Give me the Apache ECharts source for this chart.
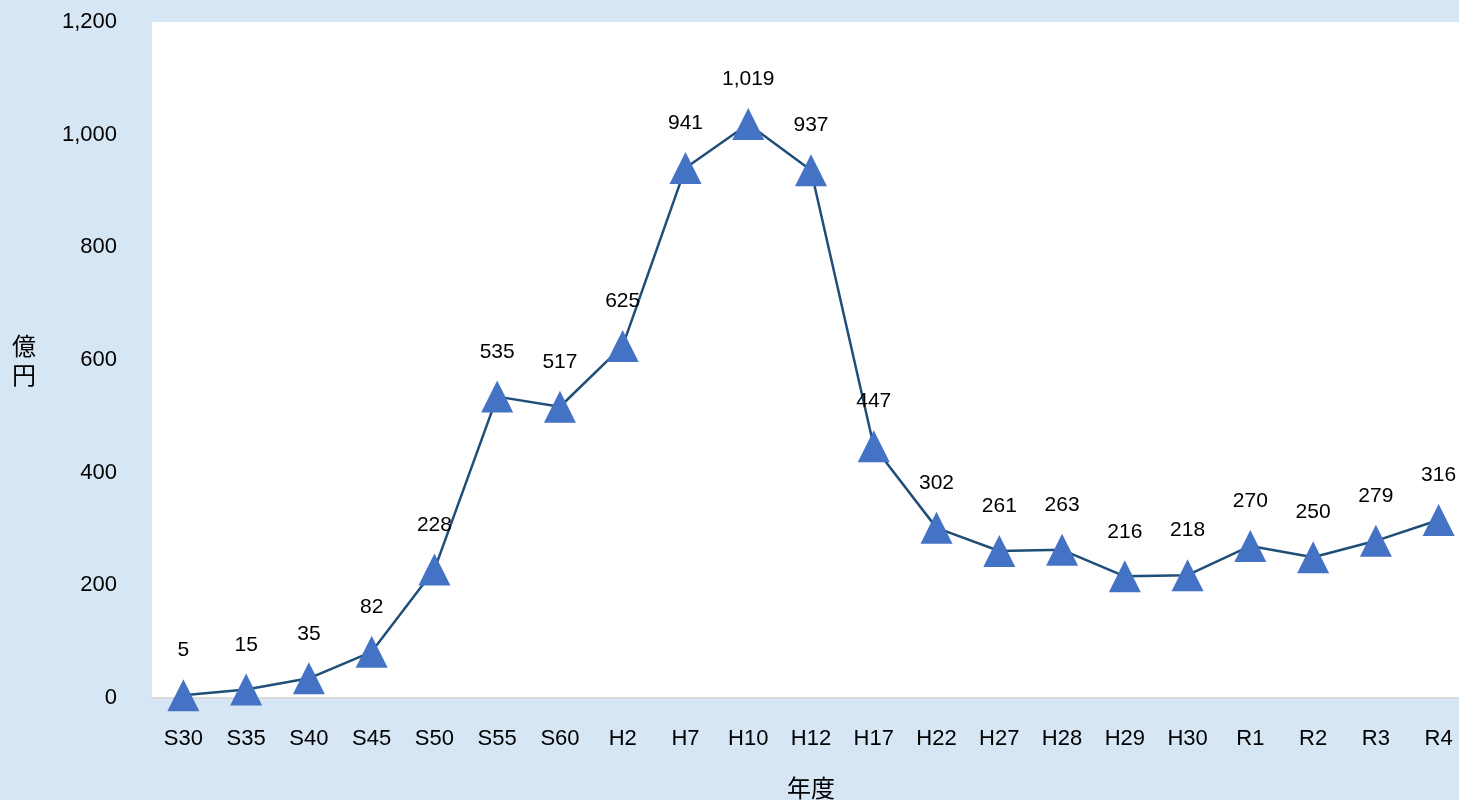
<!DOCTYPE html>
<html>
<head>
<meta charset="utf-8">
<script src="https://cdn.jsdelivr.net/npm/echarts@6/dist/echarts.min.js"></script>
<style>
html,body{margin:0;padding:0;background:#D6E6F5;}
#c{width:1459px;height:800px;}
</style>
</head>
<body>
<div id="c"></div>
<script>
const categories = ['S30','S35','S40','S45','S50','S55','S60','H2','H7','H10','H12','H17','H22','H27','H28','H29','H30','R1','R2','R3','R4'];
const values = [5,15,35,82,228,535,517,625,941,1019,937,447,302,261,263,216,218,270,250,279,316];
const yTicks = {min:0, max:1200, interval:200};

const chart = echarts.init(document.getElementById('c'));
const font = '"Liberation Sans", Arial, sans-serif';
const cjk = '"Noto Sans CJK JP", sans-serif';
chart.setOption({
  backgroundColor:'#D6E6F5',
  animation:false,
  grid:{left:152, top:22, bottom:102, right:-11, outerBoundsMode:'none', show:true, backgroundColor:'#ffffff', borderWidth:0},
  xAxis:{
    type:'category', data:categories, boundaryGap:true,
    name:'年度', nameLocation:'middle', nameGap:78,
    nameTextStyle:{fontSize:24, color:'#000', fontFamily:cjk},
    axisLine:{lineStyle:{color:'#d9d9d9', width:2}},
    axisTick:{show:false},
    axisLabel:{fontSize:22, color:'#000', margin:30, fontFamily:font}
  },
  yAxis:{
    type:'value', min:yTicks.min, max:yTicks.max, interval:yTicks.interval,
    name:'億\n円', nameLocation:'middle', nameGap:116, nameRotate:0,
    nameTextStyle:{fontSize:24, color:'#000', lineHeight:29, fontFamily:cjk},
    axisLine:{show:false}, axisTick:{show:false}, splitLine:{show:false},
    axisLabel:{fontSize:22, color:'#000', margin:35, fontFamily:font,
      formatter:v=>v.toLocaleString('en-US')}
  },
  series:[{
    type:'line', data:values,
    symbol:'triangle', symbolSize:[32,32],
    lineStyle:{color:'#1F4E79', width:2.5},
    itemStyle:{color:'#4472C4'},
    label:{show:true, position:'top', distance:18, fontSize:21, color:'#000', fontFamily:font,
      formatter:p=>p.value.toLocaleString('en-US')},
    z:3
  }]
});
</script>
</body>
</html>
